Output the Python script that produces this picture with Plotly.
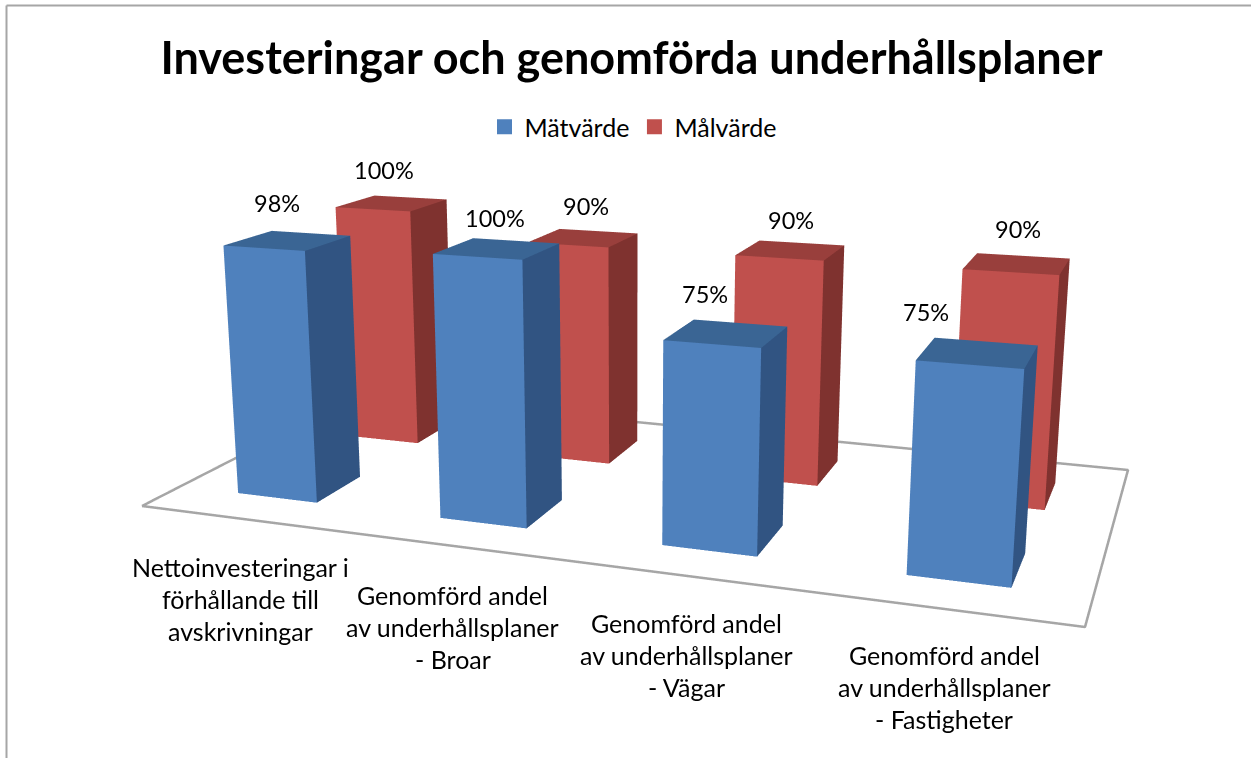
import numpy as np
import plotly.graph_objects as go

categories = [
    ["Nettoinvesteringar i", "förhållande till", "avskrivningar"],
    ["Genomförd andel", "av underhållsplaner", "- Broar"],
    ["Genomförd andel", "av underhållsplaner", "- Vägar"],
    ["Genomförd andel", "av underhållsplaner", "- Fastigheter"],
]
matvarde = [98, 100, 75, 75]
malvarde = [100, 90, 90, 90]
title_text = "Investeringar och genomförda underhållsplaner"

W, H_PX = 1251, 758
FONT = "Lato"
SCENE_TOP, SCENE_H = 0, 712

# --- view calibration: floor corners and vertical vanishing point as seen on the page
FLOOR_PX = np.array([[142, 506], [1085, 627], [1128, 470], [359, 395]], float)
FLOOR_UV = np.array([[0, 0], [1, 0], [1, 1], [0, 1]], float)
VP_Z = np.array([630.0, 7100.0, 1.0])
REF_TOP_Y = 254.0

def homography(src, dst):
    A = []
    for (x, y), (X, Y) in zip(src, dst):
        A.append([x, y, 1, 0, 0, 0, -X * x, -X * y, -X])
        A.append([0, 0, 0, x, y, 1, -Y * x, -Y * y, -Y])
    return np.linalg.svd(np.array(A))[2][-1].reshape(3, 3)

Hm = homography(FLOOR_UV, FLOOR_PX)
if Hm[2, 2] < 0:
    Hm = -Hm
hb = Hm @ np.array([0.326, 0.15, 1.0])
c = (hb[1] - REF_TOP_Y * hb[2]) / (100 * (REF_TOP_Y - VP_Z[1]))
P = np.column_stack([Hm[:, 0], Hm[:, 1], c * VP_Z, Hm[:, 2]])

cx, cy = W / 2, SCENE_TOP + SCENE_H / 2
f = SCENE_H / (2 * np.tan(np.pi / 8))
K = np.array([[f, 0, cx], [0, f, cy], [0, 0, 1.0]])
M = np.linalg.inv(K) @ P
Q, R = np.linalg.qr(M[:, :3])
sg = np.sign(np.diag(R))
Q, R = Q * sg, (R.T * sg).T
scale = 1.0 / R[0, 0]          # floor width = 1 model unit
R = R * scale
mo = M[:, 3] * scale
eye_w = -Q.T @ mo
up_w = Q.T @ np.array([0, -1.0, 0])
fwd_w = Q.T @ np.array([0, 0, 1.0])
kz = R[2, 2]

def dat(u, v, w):
    X = R @ np.array([u, v, w], float)
    return X[0], X[1], w

# scene box
XR, YR, ZR = [-1.0, 2.0], [-1.0, 2.0], [0.0, 125.0]
mid = np.array([sum(XR) / 2, sum(YR) / 2, sum(ZR) / 2 * kz])
aspect = dict(x=XR[1] - XR[0], y=YR[1] - YR[0], z=(ZR[1] - ZR[0]) * kz)

# --- bar footprints on the floor (fractions of floor width / depth)
BAR_W = 0.10
BLUE_V = (0.15, 0.35)
RED_V = (0.64, 0.84)
RED_DU = 0.002

def box(i, value, vv, du, colors, name):
    uc = (i + 0.5) / 4 + du
    u0, u1 = uc - BAR_W / 2, uc + BAR_W / 2
    v0, v1 = vv
    pts = [(u0, v0, 0), (u1, v0, 0), (u1, v1, 0), (u0, v1, 0),
           (u0, v0, value), (u1, v0, value), (u1, v1, value), (u0, v1, value)]
    xyz = np.array([dat(*p) for p in pts])
    tri = [(0, 1, 5), (0, 5, 4), (1, 2, 6), (1, 6, 5), (4, 5, 6), (4, 6, 7)]
    return go.Mesh3d(
        x=xyz[:, 0], y=xyz[:, 1], z=xyz[:, 2],
        i=[t[0] for t in tri], j=[t[1] for t in tri], k=[t[2] for t in tri],
        facecolor=[colors[0]] * 2 + [colors[1]] * 2 + [colors[2]] * 2,
        flatshading=True, hoverinfo="skip", showlegend=False, name=name,
        lighting=dict(ambient=1, diffuse=0, specular=0, roughness=1, fresnel=0,
                      facenormalsepsilon=0, vertexnormalsepsilon=0),
    )

BLUE = ("#4F81BD", "#315482", "#3A6594")
RED = ("#C0504D", "#7F322F", "#993F3C")

fig = go.Figure()
for i, v in enumerate(malvarde):
    fig.add_trace(box(i, v, RED_V, RED_DU, RED, "Målvärde"))
for i, v in enumerate(matvarde):
    fig.add_trace(box(i, v, BLUE_V, 0, BLUE, "Mätvärde"))

floor = np.array([dat(u, v, 0) for u, v in [(0, 0), (1, 0), (1, 1), (0, 1), (0, 0)]])
fig.add_trace(go.Scatter3d(x=floor[:, 0], y=floor[:, 1], z=floor[:, 2], mode="lines",
                           line=dict(color="#A6A6A6", width=5), hoverinfo="skip", showlegend=False))

# legend
fig.add_trace(go.Scatter(x=[None], y=[None], mode="markers", name="Mätvärde",
                         marker=dict(symbol="square", size=15, color=BLUE[0])))
fig.add_trace(go.Scatter(x=[None], y=[None], mode="markers", name="Målvärde",
                         marker=dict(symbol="square", size=15, color=RED[0])))

anns = []
LINE_H = 32
for lines, (lx, ly) in zip(categories, [(241, 567), (452.5, 595), (686, 623), (944, 655)]):
    for n, t in enumerate(lines):
        anns.append(dict(text=t, x=lx / W, y=1 - (ly + LINE_H * n) / H_PX, xref="paper", yref="paper",
                         showarrow=False, xanchor="center", yanchor="middle",
                         font=dict(family=FONT, size=25, color="#000000")))

# value labels pinned to each bar's top centre
LABEL_SHIFT_BLUE = [(-11, 38), (-2, 31), (-21, 39), (-52, 41)]
LABEL_SHIFT_RED = [(-8, 33), (3, 32), (0, 30), (1, 35)]
scene_anns = []
for vals, vv, du, shifts in [(matvarde, BLUE_V, 0, LABEL_SHIFT_BLUE), (malvarde, RED_V, RED_DU, LABEL_SHIFT_RED)]:
    for i, v in enumerate(vals):
        X = dat((i + 0.5) / 4 + du, sum(vv) / 2, v)
        scene_anns.append(dict(x=X[0], y=X[1], z=X[2], text=f"{v}%", showarrow=False,
                               xanchor="center", yanchor="middle",
                               xshift=shifts[i][0], yshift=shifts[i][1],
                               font=dict(family=FONT, size=23.5, color="#000000")))

eye = eye_w - mid
center = eye + fwd_w * np.linalg.norm(eye)

fig.update_layout(
    width=W, height=H_PX, margin=dict(l=0, r=0, t=0, b=0),
    paper_bgcolor="#FFFFFF", plot_bgcolor="rgba(0,0,0,0)",
    title=dict(text=f"<b>{title_text}</b>", x=631.5 / W, y=1 - 58 / H_PX, xanchor="center", yanchor="middle",
               font=dict(family=FONT, size=45, color="#000000")),
    xaxis=dict(visible=False), yaxis=dict(visible=False),
    legend=dict(orientation="h", x=633 / W, y=1 - 127 / H_PX, xanchor="center", yanchor="middle",
                font=dict(family=FONT, size=25, color="#000000")),
    annotations=anns,
    shapes=[
        dict(type="line", xref="paper", yref="paper", x0=6.5 / W, x1=1, y0=1 - 5.5 / H_PX, y1=1 - 5.5 / H_PX,
             line=dict(color="#A6A6A6", width=2)),
        dict(type="line", xref="paper", yref="paper", x0=6.5 / W, x1=6.5 / W, y0=0, y1=1 - 5.5 / H_PX,
             line=dict(color="#A6A6A6", width=2)),
    ],
    scene=dict(
        domain=dict(x=[0, 1], y=[1 - (SCENE_TOP + SCENE_H) / H_PX, 1 - SCENE_TOP / H_PX]),
        xaxis=dict(visible=False, range=XR),
        yaxis=dict(visible=False, range=YR),
        zaxis=dict(visible=False, range=ZR),
        aspectmode="manual", aspectratio=aspect,
        camera=dict(eye=dict(x=eye[0], y=eye[1], z=eye[2]),
                    center=dict(x=center[0], y=center[1], z=center[2]),
                    up=dict(x=up_w[0], y=up_w[1], z=up_w[2]),
                    projection=dict(type="perspective")),
        annotations=scene_anns,
    ),
)
fig.write_html("out.html", config=dict(displayModeBar=False),
               post_script="document.body.style.margin='0';document.documentElement.style.overflow='hidden';")
